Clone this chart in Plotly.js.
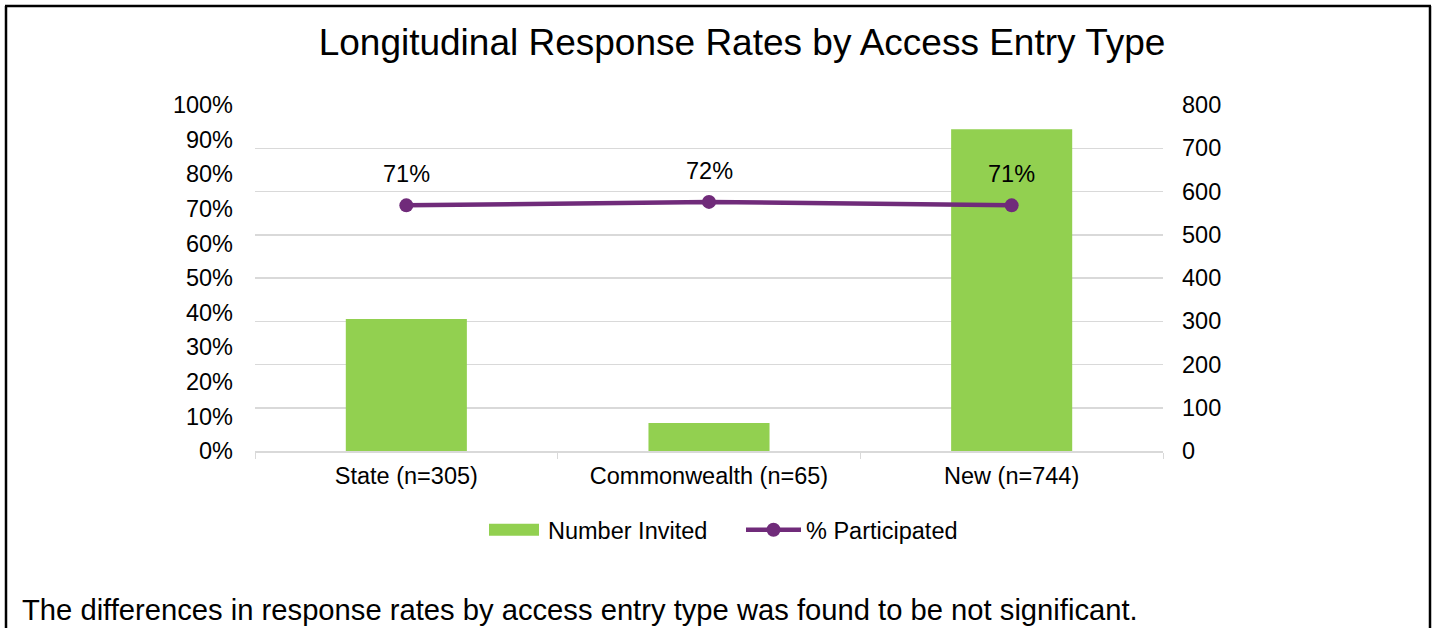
<!DOCTYPE html>
<html>
<head>
<meta charset="utf-8">
<script src="https://cdn.plot.ly/plotly-3.0.1.min.js"></script>
<style>
  html, body { margin: 0; padding: 0; background: #fff; }
  #chart { width: 1438px; height: 628px; }
</style>
</head>
<body>
<div id="chart"></div>
<script>
const categories = ["State (n=305)", "Commonwealth (n=65)", "New (n=744)"];
const numberInvited = [305, 65, 744];
const pctParticipated = [0.71, 0.72, 0.71];
const pctLabels = ["71%", "72%", "71%"];
const chartTitle = "Longitudinal Response Rates by Access Entry Type";
const footnote = "The differences in response rates by access entry type was found to be not significant.";

const W = 1438, H = 628;
const M = { l: 255, r: 275, t: 105, b: 177 };
const PW = W - M.l - M.r, PH = H - M.t - M.b;
const px = x => (x - M.l) / PW;
const py = y => (H - M.b - y) / PH;

const FONT = "Liberation Sans, Arial, sans-serif";
const GREEN = "#92d050";
const PURPLE = "#702b7a";
const FS = 23.5;

const traces = [
  {
    type: "bar",
    name: "Number Invited",
    x: categories,
    y: numberInvited,
    yaxis: "y",
    marker: { color: GREEN },
    hoverinfo: "x+y"
  },
  {
    type: "scatter",
    mode: "lines+markers",
    name: "% Participated",
    x: categories,
    y: pctParticipated,
    yaxis: "y2",
    line: { color: PURPLE, width: 4.5 },
    marker: { color: PURPLE, size: 14 }
  }
];

const annotations = categories.map((c, i) => ({
  x: c, y: pctParticipated[i], xref: "x", yref: "y2",
  text: pctLabels[i], showarrow: false, yshift: 31,
  font: { family: FONT, size: FS, color: "#000" }
}));
annotations.push({
  xref: "paper", yref: "paper",
  x: px(20), y: py(610), xanchor: "left", yanchor: "middle",
  text: footnote, showarrow: false,
  font: { family: FONT, size: 29.2, color: "#000" }
});

const border = { type: "line", xref: "paper", yref: "paper", line: { color: "#000", width: 2.5 } };
const shapes = [
  Object.assign({}, border, { x0: px(6), x1: px(6), y0: py(6), y1: py(630) }),
  Object.assign({}, border, { x0: px(5), x1: px(1431), y0: py(6), y1: py(6) }),
  Object.assign({}, border, { x0: px(1430), x1: px(1430), y0: py(6), y1: py(630) })
];

const layout = {
  width: W, height: H,
  margin: M,
  paper_bgcolor: "#fff",
  plot_bgcolor: "#fff",
  font: { family: FONT, size: FS, color: "#000" },
  title: {
    text: chartTitle,
    font: { family: FONT, size: 37, color: "#000" },
    x: 0.516, xanchor: "center", y: 1 - 42 / H, yanchor: "middle"
  },
  bargap: 0.6,
  showlegend: true,
  legend: {
    orientation: "h",
    x: px(483), xanchor: "left",
    y: py(530), yanchor: "middle",
    font: { family: FONT, size: FS, color: "#000" },
    itemwidth: 55,
    entrywidth: 188, entrywidthmode: "pixels",
    traceorder: "normal"
  },
  xaxis: {
    type: "category",
    showgrid: false,
    showline: true, linecolor: "#d9d9d9", linewidth: 1.5,
    ticks: "outside", tickson: "boundaries", ticklen: 6, tickcolor: "#d9d9d9",
    tickfont: { family: FONT, size: FS, color: "#000" },
    ticklabelstandoff: 3,
    zeroline: false
  },
  yaxis: {
    side: "right",
    range: [0, 800], dtick: 100,
    showgrid: true, gridcolor: "#d9d9d9", gridwidth: 1.5,
    zeroline: false, showline: false, ticks: "",
    tickfont: { family: FONT, size: FS, color: "#000" },
    ticklabelstandoff: 18
  },
  yaxis2: {
    overlaying: "y", side: "left",
    range: [0, 1], dtick: 0.1, tickformat: ".0%",
    showgrid: false, zeroline: false, showline: false, ticks: "",
    tickfont: { family: FONT, size: FS, color: "#000" },
    ticklabelstandoff: 21
  },
  annotations: annotations,
  shapes: shapes
};

Plotly.newPlot("chart", traces, layout, { displayModeBar: false, staticPlot: true }).then(gd => {
  // widen the bar legend swatch to match the line swatch (Excel-style wide rectangle)
  const items = gd.querySelectorAll(".legend .traces");
  if (items.length < 2) return;
  const lineEl = items[1].querySelector(".legendlines path");
  const barEl = items[0].querySelector(".legendpoints path");
  if (!lineEl || !barEl) return;
  const bb = lineEl.getBBox();
  const x0 = bb.x + 1, x1 = bb.x + 51;
  barEl.removeAttribute("transform");
  barEl.setAttribute("d", `M${x0},6H${x1}V-6H${x0}Z`);
});
</script>
</body>
</html>
